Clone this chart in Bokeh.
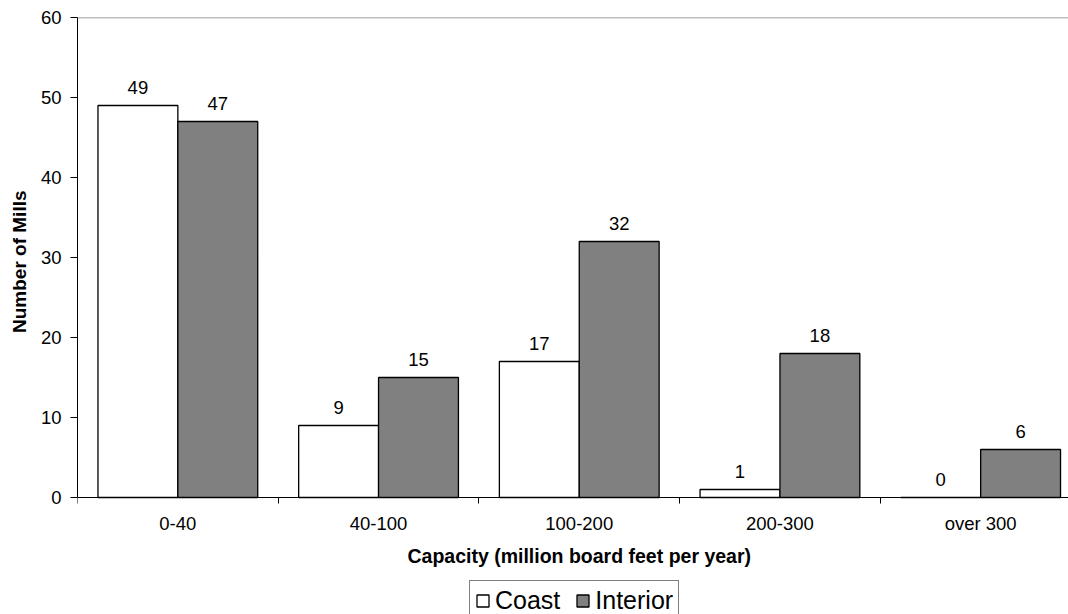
from bokeh.plotting import figure
from bokeh.models import (ColumnDataSource, FixedTicker, Range1d, Legend,
                          LegendItem, Span, Label, Title)
from bokeh.core.properties import value
from bokeh.embed import file_html
from bokeh.resources import INLINE

categories = ["0-40", "40-100", "100-200", "200-300", "over 300"]
coast = [49, 9, 17, 1, 0]
interior = [47, 15, 32, 18, 6]
series_names = ["Coast", "Interior"]
y_ticks = [0, 10, 20, 30, 40, 50, 60]
x_title = "Capacity (million board feet per year)"
y_title = "Number of Mills"

FONT = "Liberation Sans"
TICK_FS = "18.5px"

idx = list(range(len(categories)))
bw = 0.398
src_c = ColumnDataSource(dict(x=[i - bw / 2 for i in idx], top=coast,
                              lbl=[str(v) for v in coast]))
src_i = ColumnDataSource(dict(x=[i + bw / 2 for i in idx], top=interior,
                              lbl=[str(v) for v in interior]))

# frame: top at 17px, 8px per unit, extends to the canvas bottom so that the
# axis title and legend (outside the value area) stay visible
p = figure(width=1068, height=614, output_backend="svg", toolbar_location=None,
           x_range=Range1d(-0.5, 4.4377), y_range=Range1d(-14.625, 60),
           min_border_left=77, min_border_right=0, min_border_top=17,
           min_border_bottom=0)
p.outline_line_color = None
p.xgrid.visible = False
p.ygrid.visible = False
p.background_fill_color = "white"
p.border_fill_color = "white"

rc = p.vbar(x="x", top="top", width=bw, bottom=0, source=src_c,
            fill_color="white", line_color="black", line_width=1.3)
ri = p.vbar(x="x", top="top", width=bw, bottom=0, source=src_i,
            fill_color="#808080", line_color="black", line_width=1.3)

for s in (src_c, src_i):
    p.text(x="x", y="top", text="lbl", source=s, text_align="center",
           text_baseline="alphabetic", y_offset=-18,
           text_font=value(FONT), text_font_size=TICK_FS, text_color="black")

p.add_layout(Span(location=60, dimension="width", line_color="#808080",
                  line_width=1.5))

# y axis
ya = p.yaxis[0]
ya.bounds = (0, 60)
ya.ticker = FixedTicker(ticks=y_ticks, minor_ticks=[])
ya.axis_line_color = "black"
ya.major_tick_line_color = "black"
ya.major_tick_out = 7
ya.major_tick_in = 0
ya.minor_tick_line_color = None
ya.major_label_standoff = 9
ya.major_label_text_font = FONT
ya.major_label_text_font_size = TICK_FS
ya.major_label_text_color = "black"

# y axis title, centred on the 0-60 part of the axis
p.add_layout(Title(text=y_title, align="right", offset=173,
                   vertical_align="top", standoff=11, text_font=FONT,
                   text_font_style="bold", text_font_size="19px",
                   text_color="black"), "left")

# x axis, sitting on y = 0
xa = p.xaxis[0]
xa.fixed_location = 0
xa.ticker = FixedTicker(ticks=idx, minor_ticks=[i - 0.5 for i in range(len(categories) + 1)])
xa.major_label_overrides = {i: c for i, c in zip(idx, categories)}
xa.axis_line_color = "black"
xa.major_tick_line_color = None
xa.major_tick_out = 0
xa.major_tick_in = 0
xa.minor_tick_line_color = "black"
xa.minor_tick_out = 6
xa.minor_tick_in = 0
xa.major_label_standoff = 9
xa.major_label_text_font = FONT
xa.major_label_text_font_size = TICK_FS
xa.major_label_text_color = "black"

p.add_layout(Label(x=2, y=-7.3, text=x_title, text_align="center",
                   text_baseline="alphabetic", text_font=FONT,
                   text_font_style="bold", text_font_size="19.5px",
                   text_color="black"))

legend = Legend(items=[LegendItem(label=series_names[0], renderers=[rc]),
                       LegendItem(label=series_names[1], renderers=[ri])],
                orientation="horizontal", location=(392, -7),
                label_text_font=FONT, label_text_font_size="25px",
                label_text_color="black", glyph_width=15, glyph_height=15,
                label_standoff=5, spacing=15, padding=5, margin=0,
                border_line_color="black", border_line_width=1,
                background_fill_color="white", background_fill_alpha=1)
p.add_layout(legend, "center")

open("out.html", "w").write(file_html(p, INLINE))
